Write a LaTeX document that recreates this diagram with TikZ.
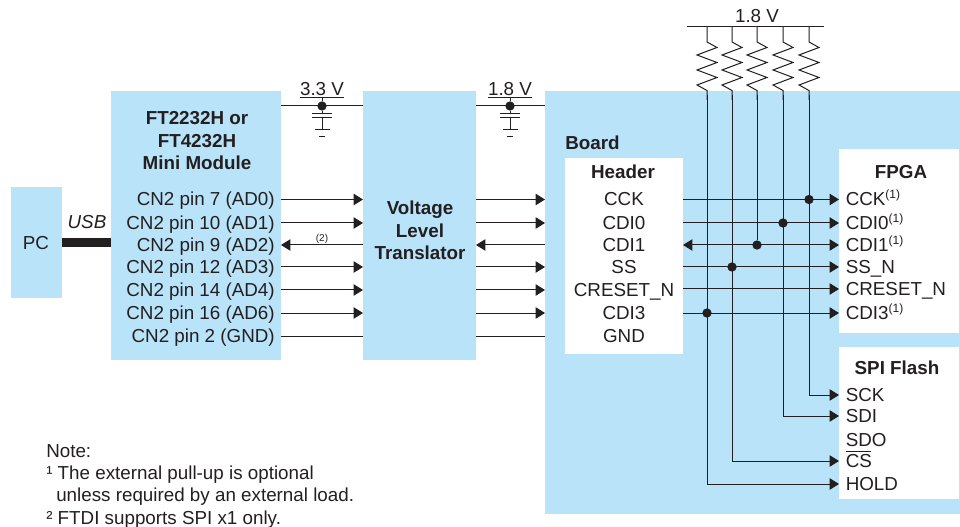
\documentclass[tikz,border=0pt]{standalone}
\usepackage{fontspec}
\setmainfont{Liberation Sans}
\usetikzlibrary{arrows.meta}
\definecolor{boxblue}{HTML}{B9E3F9}
\definecolor{ink}{HTML}{231F20}
\tikzset{
  x=0.75pt,y=-0.75pt,
  wire/.style={draw=ink,line width=0.75pt},
  sig/.style={wire,-{Triangle[length=7pt,width=8.5pt]}},
  sigl/.style={wire,{Triangle[length=7pt,width=8.5pt]}-},
  sigb/.style={wire,{Triangle[length=7pt,width=8.5pt]}-{Triangle[length=7pt,width=8.5pt]}},
  dot/.style={circle,fill=ink,inner sep=0pt,minimum size=7pt,outer sep=0pt},
  txt/.style={text=ink,font=\fontsize{14.1}{16}\selectfont,inner sep=0pt,text height=10.2pt,text depth=3pt,yshift=-1pt},
  lbl/.style={txt,anchor=west},
  rlbl/.style={txt,anchor=east},
  hd/.style={txt,font=\fontsize{14.1}{16}\selectfont\bfseries},
  note/.style={txt,anchor=west},
}
\newcommand{\bx}[6]{\node[fill=#6,inner sep=0pt,outer sep=0pt,minimum width={(#4-#2)*0.75pt},minimum height={(#5-#3)*0.75pt}] (#1) at ({(#2+#4)/2},{(#3+#5)/2}) {};}
\newcommand{\supone}{\textsuperscript{\fontsize{9}{9}\selectfont(1)}}
\begin{document}
\begin{tikzpicture}
\useasboundingbox (0,0) rectangle (960,527);
% boxes
\bx{pc}{11}{187}{62}{298}{boxblue}
\bx{mm}{111}{91}{281}{360}{boxblue}
\bx{vlt}{363}{91}{476}{360}{boxblue}
\bx{board}{545}{91}{960}{514}{boxblue}
\bx{hdr}{565}{158}{683}{354}{white}
\bx{fpga}{839}{149}{959}{333}{white}
\bx{spi}{839}{347}{959}{499}{white}
% row levels
\foreach \n/\y in {r1/199.5,r2/223,r3/245,r4/267,r5/290,r6/313,r7/336,f1/199,f2/223,f3/245,f4/267,f5/289,f6/313,s1/395,s2/416,s3/440,s4/461,s5/484}
  \coordinate (\n) at (0,\y);
% USB
\path[fill=ink] (pc.east |- 0,238) rectangle (mm.west |- 0,247);
\node[txt,font=\fontsize{14.1}{16}\selectfont\itshape] (usb) at (87,222) {USB};
\node[txt] (pclabel) at (36,243) {PC};
% module text
\node[hd] (m1) at (197,118) {FT2232H or};
\node[hd] (m2) at (197,141) {FT4232H};
\node[hd] (m3) at (197,163) {Mini Module};
\foreach \n/\t in {r1/CN2 pin 7 (AD0),r2/CN2 pin 10 (AD1),r3/CN2 pin 9 (AD2),r4/CN2 pin 12 (AD3),r5/CN2 pin 14 (AD4),r6/CN2 pin 16 (AD6),r7/CN2 pin 2 (GND)}
  \node[rlbl] (t\n) at (275,0 |- \n) {\t};
% translator text
\node[hd] (v1) at (420,208.5) {Voltage};
\node[hd] (v2) at (420,231) {Level};
\node[hd] (v3) at (420,253.5) {Translator};
% board text
\node[hd,anchor=west] (bt) at (565,143) {Board};
\node[hd] (ht) at (623,172) {Header};
\foreach \n/\t in {r1/CCK,r2/CDI0,r3/CDI1,r4/SS,r5/CRESET\_N,r6/CDI3,r7/GND}
  \node[txt] (h\n) at (624,0 |- \n) {\t};
\node[hd] (ft) at (901,172) {FPGA};
\foreach \n/\t in {f1/CCK\supone,f2/CDI0\supone,f3/CDI1\supone,f4/SS\_N,f5/CRESET\_N,f6/CDI3\supone}
  \node[lbl] (t\n) at (845.5,0 |- \n) {\t};
\node[hd] (st) at (897,368) {SPI Flash};
\foreach \n/\t in {s1/SCK,s2/SDI,s3/SDO,s4/CS,s5/HOLD}
  \node[lbl] (t\n) at (845.5,0 |- \n) {\t};
\draw[wire] (846,451) -- (871,451);
% left arrows
\foreach \n in {r1,r2,r4,r5,r6}{
  \draw[sig] (mm.east |- \n) -- (vlt.west |- \n);
  \draw[sig] (vlt.east |- \n) -- (board.west |- \n);
}
\draw[sigl] (mm.east |- r3) -- (vlt.west |- r3);
\draw[sigl] (vlt.east |- r3) -- (board.west |- r3);
\draw[wire] (mm.east |- r7) -- (vlt.west |- r7);
\draw[wire] (vlt.east |- r7) -- (board.west |- r7);
\node[txt,font=\fontsize{7.5}{8}\selectfont,text height=5.5pt,text depth=1.6pt] (two) at (322,238) {(2)};
% voltages
\foreach \nm/\x/\a/\b in {a/322/mm/vlt,b/510/vlt/board}{
  \node[dot] (j\nm) at (\x,106) {};
  \draw[wire] (\a.east |- j\nm) -- (\b.west |- j\nm);
  \coordinate (u\nm) at (\x,98);
  \draw[wire] (j\nm) -- (u\nm);
  \draw[wire] ([xshift=-16.5pt]u\nm) -- ([xshift=16.5pt]u\nm);
  \draw[wire] (\x-10,113.5) -- (\x+10,113.5);
  \draw[wire] (\x-10,118) -- (\x+10,118);
  \draw[wire] (j\nm) -- (\x,113.5);
  \draw[wire] (\x,118) -- (\x,130);
  \draw[wire] (\x-7.5,130) -- (\x+7.5,130);
  \draw[wire] (\x-3,137) -- (\x+3,137);
}
\node[txt] (v33) at (322,89) {3.3 V};
\node[txt] (v18) at (510,89) {1.8 V};
% pull-ups
\coordinate (railw) at (687,26.5);
\coordinate (raile) at (824,26.5);
\draw[wire] (railw) -- (raile);
\node[txt] (v18t) at (757,16) {1.8 V};
\foreach \n/\x in {p1/707,p2/732,p3/757,p4/783,p5/809}{
  \coordinate (\n) at (\x,26.5);
  \draw[wire,line join=miter] (\n) -- (\x,42) -- (\x+10,47.5) -- (\x-10,55) -- (\x+10,62.5) -- (\x-10,70) -- (\x+10,77.5) -- (\x-10,85) -- (\x,90.5) -- (\x,100);
}
% header to devices
\draw[sig] (hdr.east |- r1) -- (fpga.west |- r1);
\draw[sig] (hdr.east |- r2) -- (fpga.west |- r2);
\draw[sigb] (hdr.east |- r3) -- (fpga.west |- r3);
\draw[sig] (hdr.east |- r4) -- (fpga.west |- r4);
\draw[sig] (hdr.east |- f5) -- (fpga.west |- f5);
\draw[sig] (hdr.east |- r6) -- (fpga.west |- r6);
\node[dot] (d1) at (p5 |- r1) {};
\node[dot] (d2) at (p4 |- r2) {};
\node[dot] (d3) at (p3 |- r3) {};
\node[dot] (d4) at (p2 |- r4) {};
\node[dot] (d5) at (p1 |- r6) {};
\draw[sig] (p5 |- 0,95) |- (spi.west |- s1);
\draw[sig] (p4 |- 0,95) |- (spi.west |- s2);
\draw[wire] (p3 |- 0,95) -- (d3);
\draw[sig] (p2 |- 0,95) |- (spi.west |- s4);
\draw[sig] (p1 |- 0,95) |- (spi.west |- s5);
% notes
\node[note] (n0) at (46,451) {Note:};
\node[note] (n1) at (46,473) {¹ The external pull-up is optional};
\node[note] (n2) at (56,495) {unless required by an external load.};
\node[note] (n3) at (46,518) {² FTDI supports SPI x1 only.};
\end{tikzpicture}
\end{document}
